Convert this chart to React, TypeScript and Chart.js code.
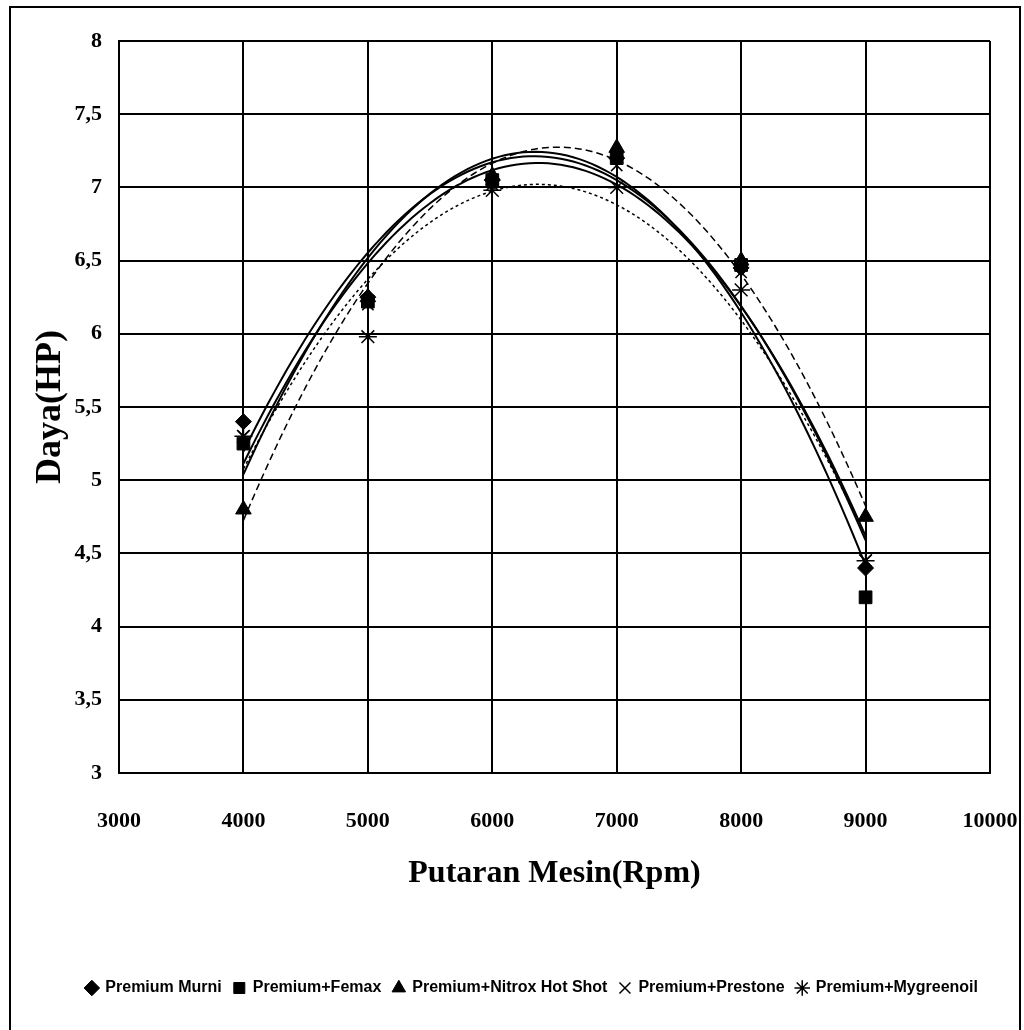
import React, { useEffect, useRef } from "react";
import { Chart, registerables } from "chart.js";

Chart.register(...registerables);

// ---- data ----
const rpm = [4000, 5000, 6000, 7000, 8000, 9000];
const premiumMurni = [5.4, 6.25, 7.05, 7.2, 6.45, 4.4];
const premiumFemax = [5.25, 6.22, 7.05, 7.2, 6.47, 4.2];
const premiumNitrox = [4.8, 6.25, 7.08, 7.27, 6.5, 4.75];
const premiumPrestone = [5.3, 6.2, 7.02, 7.15, 6.42, 4.45];
const premiumMygreenoil = [5.3, 5.98, 6.98, 7.0, 6.3, 4.45];

const seriesLabels = [
  "Premium Murni",
  "Premium+Femax",
  "Premium+Nitrox Hot Shot",
  "Premium+Prestone",
  "Premium+Mygreenoil",
];
const xTicks = [3000, 4000, 5000, 6000, 7000, 8000, 9000, 10000];
const yTicks = [3, 3.5, 4, 4.5, 5, 5.5, 6, 6.5, 7, 7.5, 8];
const xTitle = "Putaran Mesin(Rpm)";
const yTitle = "Daya(HP)";

// least-squares quadratic (Excel "polynomial, order 2" trendline)
function quadFit(xs: number[], ys: number[]) {
  const u = xs.map((x) => x / 1000);
  let s0 = 0, s1 = 0, s2 = 0, s3 = 0, s4 = 0, t0 = 0, t1 = 0, t2 = 0;
  u.forEach((x, i) => {
    const y = ys[i];
    s0 += 1; s1 += x; s2 += x * x; s3 += x ** 3; s4 += x ** 4;
    t0 += y; t1 += x * y; t2 += x * x * y;
  });
  const M = [
    [s4, s3, s2, t2],
    [s3, s2, s1, t1],
    [s2, s1, s0, t0],
  ];
  for (let i = 0; i < 3; i++) {
    for (let j = i + 1; j < 3; j++) {
      const f = M[j][i] / M[i][i];
      for (let k = i; k < 4; k++) M[j][k] -= f * M[i][k];
    }
  }
  const r = [0, 0, 0];
  for (let i = 2; i >= 0; i--) {
    let s = M[i][3];
    for (let k = i + 1; k < 3; k++) s -= M[i][k] * r[k];
    r[i] = s / M[i][i];
  }
  return (x: number) => {
    const v = x / 1000;
    return r[0] * v * v + r[1] * v + r[2];
  };
}

function trendPoints(ys: number[]) {
  const f = quadFit(rpm, ys);
  const pts: { x: number; y: number }[] = [];
  for (let x = rpm[0]; x <= rpm[rpm.length - 1]; x += 50) pts.push({ x, y: f(x) });
  return pts;
}

const borderPlugin = {
  id: "outerBorder",
  beforeDraw(chart: any) {
    const ctx = chart.ctx;
    ctx.save();
    ctx.fillStyle = "#ffffff";
    ctx.fillRect(0, 0, chart.width, chart.height);
    ctx.restore();
  },
  afterDraw(chart: any) {
    const ctx = chart.ctx;
    ctx.save();
    ctx.strokeStyle = "#000";
    ctx.lineWidth = 2;
    ctx.beginPath();
    ctx.moveTo(10, 1040);
    ctx.lineTo(10, 7);
    ctx.lineTo(1020, 7);
    ctx.lineTo(1020, 1040);
    ctx.stroke();
    ctx.restore();
  },
};

export default function App() {
  const ref = useRef<HTMLCanvasElement | null>(null);

  useEffect(() => {
    document.body.style.margin = "0";
    const series = [premiumMurni, premiumFemax, premiumNitrox, premiumPrestone, premiumMygreenoil];
    const styles = ["rectRot", "rect", "triangle", "crossRot", "star"];
    const radii = [8, 9, 9, 8, 9];
    const dashes = [[], [], [7, 4], [], [3, 3]];
    const markerSets = series.map((ys, i) => ({
      label: seriesLabels[i],
      data: rpm.map((x, j) => ({ x, y: ys[j] })),
      showLine: false,
      pointStyle: styles[i],
      pointRadius: radii[i],
      pointBackgroundColor: "#000",
      pointBorderColor: "#000",
      pointBorderWidth: styles[i] === "crossRot" || styles[i] === "star" ? 1.5 : 1,
      backgroundColor: "#000",
      borderColor: "#000",
      order: 0,
    }));
    const trendSets = series.map((ys, i) => ({
      label: seriesLabels[i] + " trend",
      data: trendPoints(ys),
      showLine: true,
      pointRadius: 0,
      borderColor: "#000",
      borderWidth: i === 2 || i === 4 ? 1.5 : 2,
      borderDash: dashes[i],
      tension: 0,
      order: 1,
    }));

    const chart = new Chart(ref.current as HTMLCanvasElement, {
      type: "scatter",
      data: { datasets: [...markerSets, ...trendSets] as any },
      plugins: [borderPlugin],
      options: {
        animation: false,
        responsive: false,
        devicePixelRatio: 1,
        layout: { padding: { top: 41, right: 34, bottom: 24, left: 0 } },
        plugins: {
          tooltip: { enabled: false },
          legend: {
            position: "bottom",
            align: "end",
            labels: {
              filter: (item: any) => item.datasetIndex < 5,
              usePointStyle: true,
              boxWidth: 11,
              boxHeight: 11,
              padding: 12,
              color: "#000",
              font: { family: "'Liberation Sans', sans-serif", size: 16, weight: "bold" },
            },
          },
        },
        scales: {
          x: {
            type: "linear",
            min: 3000,
            max: 10000,
            afterBuildTicks: (s: any) => {
              s.ticks = xTicks.map((v) => ({ value: v }));
            },
            afterFit: (s: any) => {
              s.height = 195;
              s.paddingRight = 0;
              s.paddingLeft = 0;
            },
            ticks: {
              padding: 35,
              color: "#000",
              font: { family: "'Liberation Serif', serif", size: 22, weight: "bold" },
              callback: (v: any) => String(v),
            },
            grid: { color: "#000", lineWidth: 2, drawTicks: false },
            border: { color: "#000", width: 2 },
            title: {
              display: true,
              text: xTitle,
              color: "#000",
              font: { family: "'Liberation Serif', serif", size: 32, weight: "bold" },
              padding: { top: 0, bottom: 75 },
            },
          },
          y: {
            type: "linear",
            min: 3,
            max: 8,
            afterBuildTicks: (s: any) => {
              s.ticks = yTicks.map((v) => ({ value: v }));
            },
            afterFit: (s: any) => {
              s.width = 119;
              s.paddingTop = 0;
              s.paddingBottom = 0;
            },
            ticks: {
              padding: 17,
              color: "#000",
              font: { family: "'Liberation Serif', serif", size: 22, weight: "bold" },
              callback: (v: any) => String(v).replace(".", ","),
            },
            grid: { color: "#000", lineWidth: 2, drawTicks: false },
            border: { color: "#000", width: 2 },
            title: {
              display: true,
              text: yTitle,
              color: "#000",
              font: { family: "'Liberation Serif', serif", size: 36, weight: "bold" },
              padding: { top: 29, bottom: 0 },
            },
          },
        },
      } as any,
    });
    return () => chart.destroy();
  }, []);

  return <canvas ref={ref} width={1024} height={1030} style={{ display: "block" }} />;
}
